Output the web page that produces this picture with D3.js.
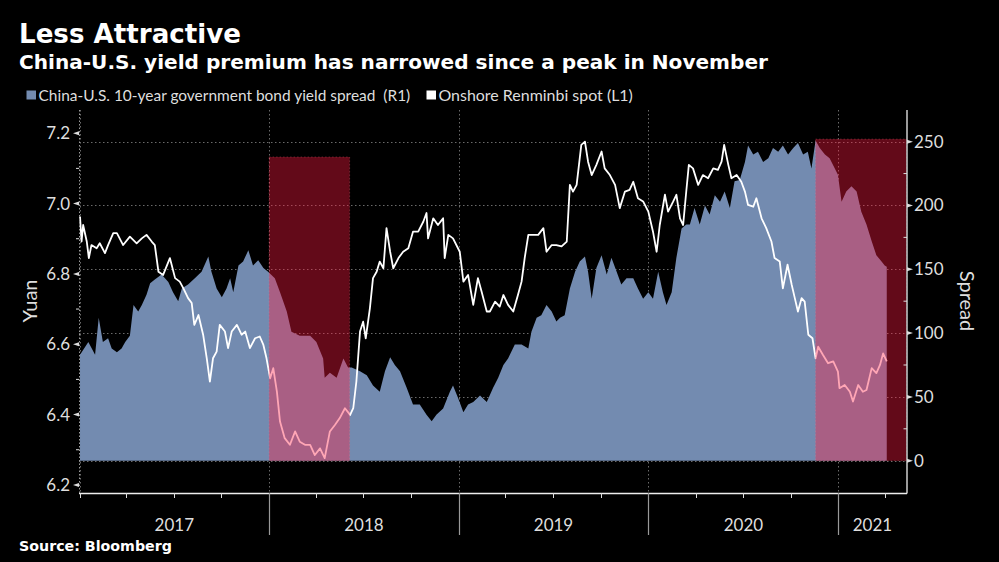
<!DOCTYPE html>
<html>
<head>
<meta charset="utf-8">
<script src="https://cdn.jsdelivr.net/npm/d3@7"></script>
<style>
html,body{margin:0;padding:0;background:#000;}
svg{display:block;}
</style>
</head>
<body>
<svg id="chart" width="999" height="562"></svg>
<script>
// ---------- DATA ----------
const titleText = "Less Attractive";
const subtitleText = "China-U.S. yield premium has narrowed since a peak in November";
const legendSpread = "China-U.S. 10-year government bond yield spread  (R1)";
const legendYuan = "Onshore Renminbi spot (L1)";
const sourceText = "Source: Bloomberg";
const yearLabels = ["2017","2018","2019","2020","2021"];
const leftTicks = [6.2, 6.4, 6.6, 6.8, 7.0, 7.2];
const rightTicks = [0, 50, 100, 150, 200, 250];

// China-U.S. 10y spread (bp), right axis
const spreadData = [
["2017-01-02",83],["2017-01-18",93],["2017-01-31",83],["2017-02-07",112],["2017-02-15",93],["2017-02-25",96],
["2017-03-04",88],["2017-03-14",85],["2017-03-23",88],["2017-03-30",93],["2017-04-08",98],["2017-04-15",122],
["2017-04-24",117],["2017-05-01",122],["2017-05-10",130],["2017-05-17",139],["2017-05-26",142],["2017-06-08",146],
["2017-06-21",140],["2017-06-30",132],["2017-07-10",125],["2017-07-17",135],["2017-07-29",138],["2017-08-11",143],
["2017-08-24",148],["2017-09-06",160],["2017-09-12",148],["2017-09-22",135],["2017-10-02",128],["2017-10-11",135],
["2017-10-18",143],["2017-10-24",132],["2017-11-03",153],["2017-11-12",156],["2017-11-22",165],["2017-12-01",153],
["2017-12-11",157],["2017-12-21",151],["2017-12-30",148],["2018-01-12",143],["2018-01-22",132],["2018-02-04",117],
["2018-02-13",101],["2018-03-01",98],["2018-03-21",98],["2018-04-02",93],["2018-04-15",80],["2018-04-18",65],
["2018-04-28",69],["2018-05-11",65],["2018-05-24",80],["2018-06-02",73],["2018-06-09",73],["2018-06-25",70],
["2018-07-08",67],["2018-07-20",59],["2018-08-02",54],["2018-08-12",70],["2018-08-22",81],["2018-08-31",75],
["2018-09-10",70],["2018-09-23",57],["2018-10-05",44],["2018-10-18",44],["2018-10-31",36],["2018-11-10",31],
["2018-11-19",36],["2018-12-02",41],["2018-12-15",54],["2018-12-21",59],["2018-12-31",49],["2019-01-10",38],
["2019-01-19",44],["2019-01-29",46],["2019-02-11",51],["2019-02-24",46],["2019-03-08",57],["2019-03-18",65],
["2019-03-28",75],["2019-04-06",80],["2019-04-19",91],["2019-05-02",91],["2019-05-15",88],["2019-05-21",101],
["2019-05-31",112],["2019-06-09",114],["2019-06-19",122],["2019-06-29",117],["2019-07-08",109],["2019-07-15",112],
["2019-07-24",114],["2019-08-03",135],["2019-08-13",148],["2019-08-22",156],["2019-09-01",160],["2019-09-07",148],
["2019-09-14",127],["2019-09-23",151],["2019-10-03",161],["2019-10-13",146],["2019-10-22",159],["2019-11-01",148],
["2019-11-10",138],["2019-11-20",143],["2019-12-03",143],["2019-12-12",135],["2019-12-22",127],["2020-01-01",132],
["2020-01-10",127],["2020-01-20",148],["2020-01-29",132],["2020-02-05",122],["2020-02-15",132],["2020-02-24",159],
["2020-03-05",182],["2020-03-14",185],["2020-03-21",185],["2020-03-30",198],["2020-04-09",185],["2020-04-19",200],
["2020-04-28",193],["2020-05-08",208],["2020-05-18",203],["2020-05-27",211],["2020-06-06",198],["2020-06-15",219],
["2020-06-25",220],["2020-07-05",234],["2020-07-11",247],["2020-07-21",240],["2020-07-30",242],["2020-08-09",234],
["2020-08-19",237],["2020-08-28",245],["2020-09-07",242],["2020-09-16",247],["2020-09-26",240],["2020-10-06",245],
["2020-10-15",249],["2020-10-25",240],["2020-11-03",242],["2020-11-10",229],["2020-11-18",251],["2020-11-26",245],
["2020-12-06",240],["2020-12-15",237],["2020-12-25",229],["2020-12-31",224],["2021-01-07",203],["2021-01-16",211],
["2021-01-26",215],["2021-02-05",211],["2021-02-14",195],["2021-02-24",185],["2021-03-06",172],["2021-03-15",161],
["2021-03-25",156],["2021-03-31",153],["2021-04-04",152]
];

// Onshore CNY spot, left axis
const yuanData = [
["2017-01-02",6.963],["2017-01-05",6.892],["2017-01-08",6.939],["2017-01-15",6.892],["2017-01-19",6.845],["2017-01-24",6.882],
["2017-02-03",6.873],["2017-02-09",6.887],["2017-02-19",6.859],["2017-02-25",6.882],["2017-03-07",6.916],["2017-03-14",6.916],
["2017-03-26",6.882],["2017-04-08",6.906],["2017-04-21",6.887],["2017-05-01",6.901],["2017-05-10",6.911],["2017-05-20",6.892],
["2017-05-26",6.882],["2017-06-02",6.806],["2017-06-11",6.797],["2017-06-24",6.845],["2017-07-04",6.788],["2017-07-13",6.778],
["2017-07-20",6.759],["2017-07-29",6.731],["2017-08-05",6.717],["2017-08-10",6.655],["2017-08-18",6.683],["2017-08-27",6.627],
["2017-09-03",6.560],["2017-09-09",6.494],["2017-09-15",6.560],["2017-09-22",6.579],["2017-09-28",6.655],["2017-10-08",6.636],
["2017-10-14",6.589],["2017-10-21",6.636],["2017-10-31",6.655],["2017-11-09",6.627],["2017-11-16",6.636],["2017-11-25",6.589],
["2017-12-05",6.617],["2017-12-14",6.622],["2017-12-21",6.598],["2017-12-27",6.560],["2018-01-03",6.503],["2018-01-09",6.532],
["2018-01-16",6.465],["2018-01-22",6.380],["2018-01-31",6.333],["2018-02-10",6.314],["2018-02-20",6.352],["2018-03-01",6.323],
["2018-03-11",6.314],["2018-03-21",6.314],["2018-03-30",6.285],["2018-04-09",6.304],["2018-04-18",6.276],["2018-04-28",6.352],
["2018-05-08",6.371],["2018-05-17",6.390],["2018-05-27",6.418],["2018-06-06",6.399],["2018-06-12",6.418],["2018-06-18",6.494],
["2018-06-25",6.636],["2018-07-01",6.664],["2018-07-06",6.617],["2018-07-14",6.702],["2018-07-20",6.788],["2018-07-27",6.806],
["2018-08-02",6.835],["2018-08-09",6.816],["2018-08-15",6.930],["2018-08-22",6.863],["2018-08-28",6.816],["2018-09-07",6.845],
["2018-09-16",6.863],["2018-09-26",6.873],["2018-10-05",6.920],["2018-10-15",6.920],["2018-10-25",6.949],["2018-10-31",6.973],
["2018-11-03",6.901],["2018-11-13",6.958],["2018-11-22",6.939],["2018-12-02",6.958],["2018-12-05",6.845],["2018-12-12",6.911],
["2018-12-21",6.901],["2019-01-03",6.863],["2019-01-10",6.778],["2019-01-19",6.797],["2019-01-29",6.712],["2019-02-07",6.788],
["2019-02-14",6.750],["2019-02-24",6.693],["2019-03-02",6.693],["2019-03-12",6.721],["2019-03-21",6.707],["2019-03-28",6.740],
["2019-04-06",6.712],["2019-04-16",6.693],["2019-04-25",6.740],["2019-05-02",6.778],["2019-05-08",6.845],["2019-05-15",6.911],
["2019-05-24",6.911],["2019-06-03",6.911],["2019-06-13",6.930],["2019-06-19",6.863],["2019-06-29",6.882],["2019-07-08",6.882],
["2019-07-18",6.878],["2019-07-28",6.892],["2019-08-03",7.053],["2019-08-09",7.034],["2019-08-16",7.053],["2019-08-25",7.167],
["2019-09-01",7.176],["2019-09-07",7.119],["2019-09-14",7.081],["2019-09-23",7.110],["2019-10-03",7.148],["2019-10-09",7.100],
["2019-10-19",7.081],["2019-10-29",7.053],["2019-11-07",6.987],["2019-11-17",7.034],["2019-11-26",7.039],["2019-12-03",7.062],
["2019-12-12",7.015],["2019-12-22",7.006],["2020-01-01",6.977],["2020-01-10",6.920],["2020-01-17",6.863],["2020-01-23",6.939],
["2020-02-02",7.025],["2020-02-08",6.977],["2020-02-18",7.006],["2020-02-24",7.025],["2020-03-02",6.958],["2020-03-08",6.939],
["2020-03-14",7.034],["2020-03-19",7.110],["2020-03-27",7.100],["2020-04-06",7.053],["2020-04-15",7.081],["2020-04-25",7.072],
["2020-05-05",7.100],["2020-05-14",7.096],["2020-05-21",7.119],["2020-05-26",7.167],["2020-06-03",7.110],["2020-06-09",7.072],
["2020-06-19",7.081],["2020-06-28",7.062],["2020-07-05",7.034],["2020-07-11",6.996],["2020-07-21",6.991],["2020-07-27",7.015],
["2020-08-06",6.958],["2020-08-15",6.930],["2020-08-25",6.892],["2020-08-31",6.845],["2020-09-10",6.835],["2020-09-16",6.759],
["2020-09-25",6.826],["2020-10-03",6.769],["2020-10-09",6.731],["2020-10-15",6.693],["2020-10-22",6.731],["2020-10-28",6.721],
["2020-11-04",6.627],["2020-11-12",6.617],["2020-11-18",6.560],["2020-11-23",6.593],["2020-12-02",6.570],["2020-12-12",6.546],
["2020-12-22",6.551],["2020-12-31",6.522],["2021-01-03",6.475],["2021-01-13",6.484],["2021-01-23",6.465],["2021-01-29",6.437],
["2021-02-08",6.484],["2021-02-17",6.465],["2021-02-24",6.470],["2021-03-06",6.532],["2021-03-15",6.518],["2021-03-22",6.541],
["2021-03-28",6.574],["2021-04-04",6.551]
];

// highlighted periods: [start, end, top value on spread axis]
const highlights = [
["2018-01-01","2018-06-05",238],
["2020-11-18","2021-05-12",252]
];

// ---------- LAYOUT ----------
const svg = d3.select("#chart");
const W = 999, H = 562;
const plot = {left: 79, right: 906.5, top: 110, bottom: 493};
const parse = d3.timeParse("%Y-%m-%d");
const xDomain = [parse("2017-01-01"), parse("2021-05-12")];

const x = d3.scaleTime().domain(xDomain).range([plot.left + 0.5, plot.right]);
const yL = d3.scaleLinear().domain([6.177, 7.266]).range([plot.bottom, plot.top]);
const yR = d3.scaleLinear().domain([-25.3, 274.8]).range([plot.bottom, plot.top]);

const spread = spreadData.map(d => ({date: parse(d[0]), v: d[1]}));
const yuan = yuanData.map(d => ({date: parse(d[0]), v: d[1]}));

svg.append("rect").attr("width", W).attr("height", H).attr("fill", "#000");

const labelFont = "Lato, 'Open Sans', sans-serif";
const boldFont = "'DejaVu Sans', Verdana, sans-serif";

function fit(sel, target) {
  const w = sel.node().getComputedTextLength();
  const fs = parseFloat(sel.attr("font-size"));
  sel.attr("font-size", (fs * target / w).toFixed(2));
}

// Titles
fit(svg.append("text").attr("x", 19).attr("y", 43).attr("fill", "#fff")
  .attr("font-family", boldFont).attr("font-weight", "bold").attr("font-size", 27)
  .text(titleText), 222);
fit(svg.append("text").attr("x", 19).attr("y", 68.5).attr("fill", "#fff")
  .attr("font-family", boldFont).attr("font-weight", "bold").attr("font-size", 18.5)
  .text(subtitleText), 749);

// Legend
svg.append("rect").attr("x", 26.5).attr("y", 90.5).attr("width", 9.5).attr("height", 9).attr("fill", "#738bb0");
fit(svg.append("text").attr("x", 38.5).attr("y", 100.5).attr("fill", "#dedede")
  .attr("font-family", labelFont).attr("font-size", 15.5).attr("xml:space", "preserve")
  .style("white-space", "pre").text(legendSpread), 372);
svg.append("rect").attr("x", 426.5).attr("y", 90.5).attr("width", 9.5).attr("height", 9).attr("fill", "#fff");
fit(svg.append("text").attr("x", 438.5).attr("y", 100.5).attr("fill", "#dedede")
  .attr("font-family", labelFont).attr("font-size", 15.5).text(legendYuan), 194.5);

// Clip
svg.append("clipPath").attr("id", "clip").append("rect")
  .attr("x", plot.left).attr("y", plot.top)
  .attr("width", plot.right - plot.left).attr("height", plot.bottom - plot.top);

// Grid
const grid = svg.append("g").attr("stroke", "#6a6a6a").attr("stroke-width", 1).attr("stroke-dasharray", "1.5,2.5");
grid.selectAll(".h").data(rightTicks).join("line")
  .attr("x1", plot.left).attr("x2", plot.right)
  .attr("y1", d => Math.round(yR(d)) + 0.5).attr("y2", d => Math.round(yR(d)) + 0.5);
const yearStarts = yearLabels.map(y => parse(y + "-01-01"));
grid.selectAll(".v").data(yearStarts).join("line")
  .attr("x1", d => Math.round(x(d)) + 0.5).attr("x2", d => Math.round(x(d)) + 0.5)
  .attr("y1", plot.top).attr("y2", plot.bottom);

// Area (spread)
const g = svg.append("g").attr("clip-path", "url(#clip)");
g.append("path").datum(spread)
  .attr("fill", "#738bb0")
  .attr("d", d3.area().x(d => x(d.date)).y0(yR(0)).y1(d => yR(d.v)));

// Line (yuan)
g.append("path").datum(yuan)
  .attr("fill", "none").attr("stroke", "#fff").attr("stroke-width", 1.8).attr("stroke-linejoin", "round")
  .attr("d", d3.line().x(d => x(d.date)).y(d => yL(d.v)));

// Highlights
g.selectAll(".hl").data(highlights).join("rect")
  .attr("x", d => x(parse(d[0])))
  .attr("width", d => x(parse(d[1])) - x(parse(d[0])))
  .attr("y", d => yR(d[2]))
  .attr("height", d => yR(0) - yR(d[2]))
  .attr("fill", "rgb(255,26,64)").attr("fill-opacity", 0.39)
  .attr("stroke", "rgba(255,120,140,0.35)").attr("stroke-width", 0.8).attr("stroke-dasharray", "1.5,2");

// Axis lines
svg.append("line").attr("x1", plot.left).attr("x2", plot.right + 0.5)
  .attr("y1", plot.bottom + 0.5).attr("y2", plot.bottom + 0.5).attr("stroke", "#eee").attr("stroke-width", 1.3);
svg.append("line").attr("x1", plot.right + 0.5).attr("x2", plot.right + 0.5)
  .attr("y1", plot.top).attr("y2", plot.bottom + 0.5).attr("stroke", "#eee").attr("stroke-width", 1.3);
svg.append("line").attr("x1", plot.left + 0.5).attr("x2", plot.left + 0.5)
  .attr("y1", plot.top).attr("y2", plot.bottom).attr("stroke", "#9a9a9a").attr("stroke-width", 1).attr("stroke-dasharray", "1.5,2");

// Left axis ticks & labels
const leftMinor = d3.range(6.3, 7.25, 0.2);
svg.append("g").selectAll("line").data(leftMinor).join("line")
  .attr("x1", plot.left - 3).attr("x2", plot.left)
  .attr("y1", d => yL(d)).attr("y2", d => yL(d)).attr("stroke", "#ddd");
svg.append("g").selectAll("path").data(leftTicks).join("path")
  .attr("d", d => `M${plot.left},${yL(d) - 2}L${plot.left - 6},${yL(d)}L${plot.left},${yL(d) + 2}Z`)
  .attr("fill", "#ddd");
svg.append("g").selectAll("text").data(leftTicks).join("text")
  .attr("x", 70).attr("y", d => yL(d)).attr("dy", "0.35em")
  .attr("text-anchor", "end").attr("fill", "#dedede")
  .attr("font-family", labelFont).attr("font-size", 17)
  .text(d => d3.format(".1f")(d));
svg.append("text").attr("transform", `translate(37,301) rotate(-90)`)
  .attr("text-anchor", "middle").attr("fill", "#dedede")
  .attr("font-family", labelFont).attr("font-size", 20).text("Yuan");

// Right axis ticks & labels
const rightMinor = d3.range(25, 275, 50);
svg.append("g").selectAll("line").data(rightMinor).join("line")
  .attr("x1", plot.right - 3).attr("x2", plot.right + 0.5)
  .attr("y1", d => yR(d)).attr("y2", d => yR(d)).attr("stroke", "#ddd");
svg.append("g").selectAll("path").data(rightTicks).join("path")
  .attr("d", d => `M${plot.right + 0.5},${yR(d) - 2}L${plot.right + 6.5},${yR(d)}L${plot.right + 0.5},${yR(d) + 2}Z`)
  .attr("fill", "#ddd");
svg.append("g").selectAll("text").data(rightTicks).join("text")
  .attr("x", 914).attr("y", d => yR(d)).attr("dy", "0.35em")
  .attr("text-anchor", "start").attr("fill", "#dedede")
  .attr("font-family", labelFont).attr("font-size", 17)
  .text(d => d);
svg.append("text").attr("transform", `translate(960,301) rotate(90)`)
  .attr("text-anchor", "middle").attr("fill", "#dedede")
  .attr("font-family", labelFont).attr("font-size", 20).text("Spread");

// X axis: quarter ticks, year dividers, labels
const quarters = d3.timeMonth.every(3).range(xDomain[0], xDomain[1]);
svg.append("g").selectAll("line").data(quarters).join("line")
  .attr("x1", d => Math.round(x(d)) + 0.5).attr("x2", d => Math.round(x(d)) + 0.5)
  .attr("y1", plot.bottom).attr("y2", plot.bottom + 5).attr("stroke", "#ddd");
svg.append("g").selectAll("line").data(yearStarts.slice(1)).join("line")
  .attr("x1", d => Math.round(x(d)) + 0.5).attr("x2", d => Math.round(x(d)) + 0.5)
  .attr("y1", plot.bottom).attr("y2", 535).attr("stroke", "#999").attr("stroke-width", 1.2);
svg.append("g").selectAll("text").data(yearLabels).join("text")
  .attr("x", (d, i) => {
    const a = x(yearStarts[i]);
    const b = i + 1 < yearStarts.length ? x(yearStarts[i + 1]) : plot.right;
    return (a + b) / 2;
  })
  .attr("y", 531).attr("text-anchor", "middle").attr("fill", "#dedede")
  .attr("font-family", labelFont).attr("font-size", 17).text(d => d);

// Source
fit(svg.append("text").attr("x", 19).attr("y", 551).attr("fill", "#fff")
  .attr("font-family", boldFont).attr("font-weight", "bold").attr("font-size", 14)
  .text(sourceText), 153);
</script>
</body>
</html>
